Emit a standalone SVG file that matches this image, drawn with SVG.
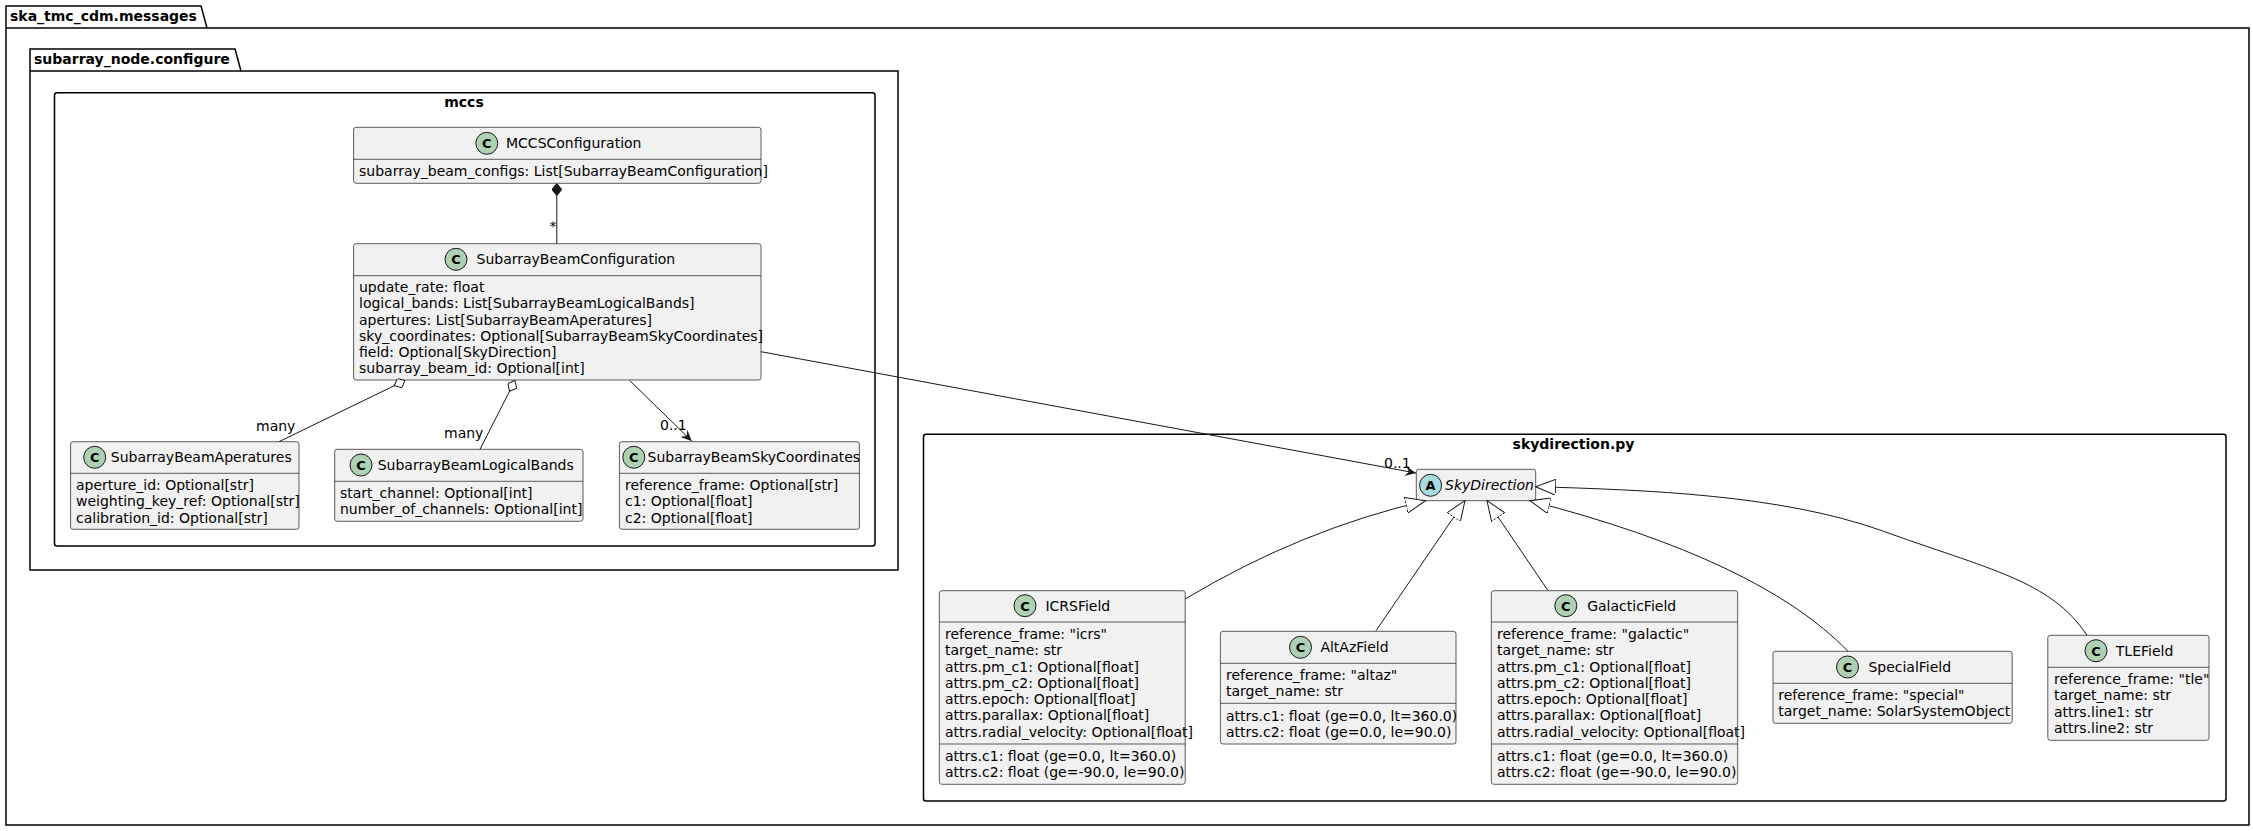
<svg xmlns="http://www.w3.org/2000/svg" width="2253" height="831" viewBox="0 0 2253 831">
<style>
text{font-family:"DejaVu Sans",sans-serif;font-size:14px;fill:#000}
.b{font-weight:bold}
.box{fill:#F1F1F1;stroke:#181818;stroke-width:0.7}
.sep{stroke:#181818;stroke-width:0.7}
.frame{fill:none;stroke:#000;stroke-width:1.5}
.ci{fill:#ADD1B2;stroke:#181818;stroke-width:1}
.ca{fill:#A9DCDF;stroke:#181818;stroke-width:1}
.cl{font-weight:bold;font-size:13px;text-anchor:middle}
.ln{fill:none;stroke:#181818;stroke-width:1}
</style>
<defs>
<marker id="arr" markerWidth="12" markerHeight="10" refX="11" refY="5" orient="auto" markerUnits="userSpaceOnUse"><path d="M0,0 L11,5 L0,10 L4,5 Z" fill="#181818"/></marker>
<marker id="tri" markerWidth="22" markerHeight="16" refX="20" refY="8" orient="auto" markerUnits="userSpaceOnUse"><path d="M0,0 L20,8 L0,16 Z" fill="#fff" stroke="#181818"/></marker>
<marker id="dia" markerWidth="24" markerHeight="10" refX="0" refY="5" orient="auto" markerUnits="userSpaceOnUse"><path d="M0,5 L6,0 L12,5 L6,10 Z" fill="#fff" stroke="#181818"/></marker>
<marker id="fdia" markerWidth="24" markerHeight="10" refX="0" refY="5" orient="auto" markerUnits="userSpaceOnUse"><path d="M0,5 L6,0 L12,5 L6,10 Z" fill="#181818" stroke="#181818"/></marker>
</defs>
<g id="pkg-messages">
<path class="frame" d="M6,28 L6,6 L201,6 L207,28 L2249,28 L2249,825 L6,825 Z"/>
<line class="frame" x1="6" y1="28" x2="207" y2="28"/>
<text class="b" x="10" y="21">ska_tmc_cdm.messages</text>
</g>
<g id="pkg-configure">
<path class="frame" d="M30,71 L30,49 L235,49 L241,71 L898,71 L898,570 L30,570 Z"/>
<line class="frame" x1="30" y1="71" x2="241" y2="71"/>
<text class="b" x="34" y="64">subarray_node.configure</text>
</g>
<g id="pkg-mccs">
<rect class="frame" x="54.5" y="92.7" width="820.5" height="453.3" rx="2.5"/>
<text class="b" x="464" y="107" text-anchor="middle">mccs</text>
</g>
<g id="pkg-skydirection">
<rect class="frame" x="923.5" y="434.3" width="1302.5" height="366.7" rx="2.5"/>
<text class="b" x="1573.5" y="449" text-anchor="middle">skydirection.py</text>
</g>

<g id="MCCSConfiguration">
<rect class="box" x="353.6" y="127.3" width="407.4" height="56" rx="2.5"/>
<line class="sep" x1="353.6" y1="159.3" x2="761" y2="159.3"/>
<circle class="ci" cx="486.8" cy="143.3" r="11"/><text class="cl" x="486.8" y="148">C</text>
<text x="506" y="148">MCCSConfiguration</text>
<text x="359" y="176">subarray_beam_configs: List[SubarrayBeamConfiguration]</text>
</g>
<g id="SubarrayBeamConfiguration">
<rect class="box" x="353.6" y="243.7" width="407.4" height="136.3" rx="2.5"/>
<line class="sep" x1="353.6" y1="275.7" x2="761" y2="275.7"/>
<circle class="ci" cx="456" cy="259.3" r="11"/><text class="cl" x="456" y="264">C</text>
<text x="476.5" y="264">SubarrayBeamConfiguration</text>
<text x="359" y="292">update_rate: float</text>
<text x="359" y="308">logical_bands: List[SubarrayBeamLogicalBands]</text>
<text x="359" y="325">apertures: List[SubarrayBeamAperatures]</text>
<text x="359" y="341">sky_coordinates: Optional[SubarrayBeamSkyCoordinates]</text>
<text x="359" y="357">field: Optional[SkyDirection]</text>
<text x="359" y="373">subarray_beam_id: Optional[int]</text>
</g>
<g id="SubarrayBeamAperatures">
<rect class="box" x="70.6" y="441.7" width="228.4" height="87.6" rx="2.5"/>
<line class="sep" x1="70.6" y1="473.3" x2="299" y2="473.3"/>
<circle class="ci" cx="94.7" cy="457.3" r="11"/><text class="cl" x="94.7" y="462">C</text>
<text x="110.8" y="462">SubarrayBeamAperatures</text>
<text x="76" y="490">aperture_id: Optional[str]</text>
<text x="76" y="506">weighting_key_ref: Optional[str]</text>
<text x="76" y="523">calibration_id: Optional[str]</text>
</g>
<g id="SubarrayBeamLogicalBands">
<rect class="box" x="334.7" y="449.3" width="248.3" height="72" rx="2.5"/>
<line class="sep" x1="334.7" y1="481.3" x2="583" y2="481.3"/>
<circle class="ci" cx="361" cy="465" r="11"/><text class="cl" x="361" y="470">C</text>
<text x="377.7" y="470">SubarrayBeamLogicalBands</text>
<text x="340" y="498">start_channel: Optional[int]</text>
<text x="340" y="514">number_of_channels: Optional[int]</text>
</g>
<g id="SubarrayBeamSkyCoordinates">
<rect class="box" x="619.4" y="441.7" width="240" height="87.6" rx="2.5"/>
<line class="sep" x1="619.4" y1="473.3" x2="859.4" y2="473.3"/>
<circle class="ci" cx="633.8" cy="457.3" r="11"/><text class="cl" x="633.8" y="462">C</text>
<text x="647.5" y="462">SubarrayBeamSkyCoordinates</text>
<text x="625" y="490">reference_frame: Optional[str]</text>
<text x="625" y="506">c1: Optional[float]</text>
<text x="625" y="523">c2: Optional[float]</text>
</g>
<g id="SkyDirection">
<rect class="box" x="1416.3" y="469.3" width="119.4" height="31.4" rx="2.5"/>
<circle class="ca" cx="1430.6" cy="485.3" r="11"/><text class="cl" x="1430.6" y="490">A</text>
<text x="1445" y="490" font-style="italic">SkyDirection</text>
</g>
<g id="ICRSField">
<rect class="box" x="939.3" y="590.7" width="245.9" height="193.6" rx="2.5"/>
<line class="sep" x1="939.3" y1="622" x2="1185.2" y2="622"/>
<line class="sep" x1="939.3" y1="744" x2="1185.2" y2="744"/>
<circle class="ci" cx="1025" cy="605.7" r="11"/><text class="cl" x="1025" y="610.5">C</text>
<text x="1045.4" y="610.5">ICRSField</text>
<text x="945" y="639">reference_frame: "icrs"</text>
<text x="945" y="655">target_name: str</text>
<text x="945" y="672">attrs.pm_c1: Optional[float]</text>
<text x="945" y="688">attrs.pm_c2: Optional[float]</text>
<text x="945" y="704">attrs.epoch: Optional[float]</text>
<text x="945" y="720">attrs.parallax: Optional[float]</text>
<text x="945" y="737">attrs.radial_velocity: Optional[float]</text>
<text x="945" y="761">attrs.c1: float (ge=0.0, lt=360.0)</text>
<text x="945" y="777">attrs.c2: float (ge=-90.0, le=90.0)</text>
</g>
<g id="AltAzField">
<rect class="box" x="1220.4" y="631.3" width="235.6" height="112.7" rx="2.5"/>
<line class="sep" x1="1220.4" y1="663.3" x2="1456" y2="663.3"/>
<line class="sep" x1="1220.4" y1="703.3" x2="1456" y2="703.3"/>
<circle class="ci" cx="1300.5" cy="647.3" r="11"/><text class="cl" x="1300.5" y="652">C</text>
<text x="1320.4" y="652">AltAzField</text>
<text x="1226" y="680">reference_frame: "altaz"</text>
<text x="1226" y="696">target_name: str</text>
<text x="1226" y="721">attrs.c1: float (ge=0.0, lt=360.0)</text>
<text x="1226" y="737">attrs.c2: float (ge=0.0, le=90.0)</text>
</g>
<g id="GalacticField">
<rect class="box" x="1491.3" y="590.7" width="246.4" height="193.6" rx="2.5"/>
<line class="sep" x1="1491.3" y1="622" x2="1737.7" y2="622"/>
<line class="sep" x1="1491.3" y1="744" x2="1737.7" y2="744"/>
<circle class="ci" cx="1565.8" cy="605.7" r="11"/><text class="cl" x="1565.8" y="610.5">C</text>
<text x="1587.2" y="610.5">GalacticField</text>
<text x="1497" y="639">reference_frame: "galactic"</text>
<text x="1497" y="655">target_name: str</text>
<text x="1497" y="672">attrs.pm_c1: Optional[float]</text>
<text x="1497" y="688">attrs.pm_c2: Optional[float]</text>
<text x="1497" y="704">attrs.epoch: Optional[float]</text>
<text x="1497" y="720">attrs.parallax: Optional[float]</text>
<text x="1497" y="737">attrs.radial_velocity: Optional[float]</text>
<text x="1497" y="761">attrs.c1: float (ge=0.0, lt=360.0)</text>
<text x="1497" y="777">attrs.c2: float (ge=-90.0, le=90.0)</text>
</g>
<g id="SpecialField">
<rect class="box" x="1773" y="651.3" width="239.2" height="72" rx="2.5"/>
<line class="sep" x1="1773" y1="683.3" x2="2012.2" y2="683.3"/>
<circle class="ci" cx="1847.5" cy="667" r="11"/><text class="cl" x="1847.5" y="672">C</text>
<text x="1868.4" y="672">SpecialField</text>
<text x="1778.3" y="700">reference_frame: "special"</text>
<text x="1778.3" y="716">target_name: SolarSystemObject</text>
</g>
<g id="TLEField">
<rect class="box" x="2047.8" y="635.3" width="161.2" height="105" rx="2.5"/>
<line class="sep" x1="2047.8" y1="667.3" x2="2209" y2="667.3"/>
<circle class="ci" cx="2096" cy="650.7" r="11"/><text class="cl" x="2096" y="655.5">C</text>
<text x="2115.8" y="655.5">TLEField</text>
<text x="2054" y="684">reference_frame: "tle"</text>
<text x="2054" y="700">target_name: str</text>
<text x="2054" y="717">attrs.line1: str</text>
<text x="2054" y="733">attrs.line2: str</text>
</g>

<g id="connectors">
<path class="ln" d="M556.8,183.5 L556.8,243.7" marker-start="url(#fdia)"/>
<text x="553" y="231" text-anchor="middle">*</text>
<path class="ln" d="M405,380.5 L279,441.7" marker-start="url(#dia)"/>
<text x="256" y="431">many</text>
<path class="ln" d="M515,380.5 L480,449.3" marker-start="url(#dia)"/>
<text x="444" y="438">many</text>
<path class="ln" d="M629.7,380.5 L691.7,441" marker-end="url(#arr)"/>
<text x="660" y="430">0..1</text>
<path class="ln" d="M761,351.7 L1416,473" marker-end="url(#arr)"/>
<text x="1384" y="468">0..1</text>
<path class="ln" d="M1185.2,599 Q1300,530 1425.5,500.7" marker-end="url(#tri)"/>
<path class="ln" d="M1376,630.7 L1465,500.7" marker-end="url(#tri)"/>
<path class="ln" d="M1548,590.7 L1487,500.7" marker-end="url(#tri)"/>
<path class="ln" d="M1848,651.3 Q1760,560 1530,500.7" marker-end="url(#tri)"/>
<path class="ln" d="M2087,635.3 C2050,580 1990,570 1880,530 C1780,495 1650,490 1535.7,486.7" marker-end="url(#tri)"/>
</g>
</svg>
